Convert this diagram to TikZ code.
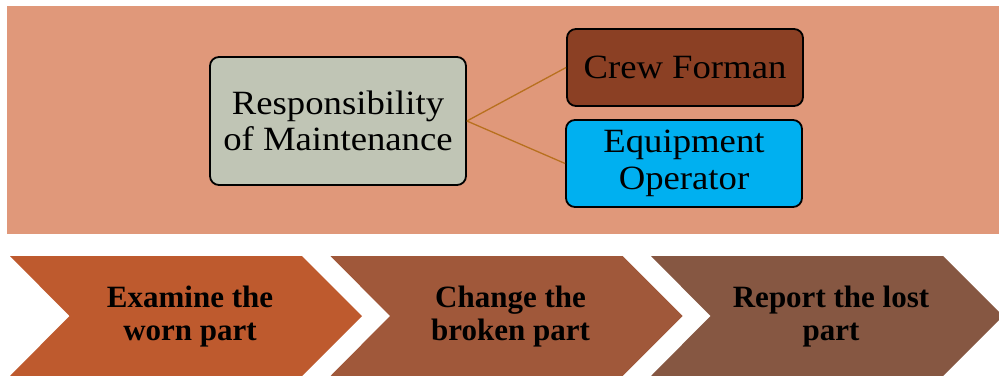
\documentclass[tikz,border=0pt]{standalone}
\usepackage{fontspec}
\setmainfont{Liberation Serif}
\newfontfamily\wideserif{Liberation Serif}[FakeStretch=1.08]
\newfontfamily\chevserif{Liberation Serif}
\definecolor{bgsalmon}{HTML}{E0987A}
\definecolor{boxgray}{HTML}{C0C5B5}
\definecolor{crewbrown}{HTML}{8B4024}
\definecolor{equipblue}{HTML}{00B0F0}
\definecolor{linkorange}{HTML}{B8701E}
\definecolor{chevA}{HTML}{BE5A2E}
\definecolor{chevB}{HTML}{A0583A}
\definecolor{chevC}{HTML}{865742}
\tikzset{
  rbox/.style={draw=black, line width=1.8pt, rounded corners=9pt, align=center,
    font=\wideserif\fontsize{34}{36.5}\selectfont, inner sep=0pt},
  link/.style={draw=linkorange, line width=1.3pt},
  chevtext/.style={align=center, inner sep=0pt,
    font=\chevserif\bfseries\fontsize{31}{33}\selectfont}
}
\begin{document}
\begin{tikzpicture}[x=1pt, y=-1pt]
\useasboundingbox (0,0) rectangle (999,375);
\clip (0,0) rectangle (999,375);
\fill[bgsalmon] (7,6) rectangle (999,234);
\node[rbox, fill=boxgray, minimum width=256pt, minimum height=128pt] (resp) at (338,121) {Responsibility\\of Maintenance};
\node[rbox, fill=crewbrown, minimum width=236pt, minimum height=77pt] (crew) at (685,67.5) {Crew Forman};
\node[rbox, fill=equipblue, minimum width=236pt, minimum height=87pt] (equip) at (684,163.5) {Equipment\\Operator};
\draw[link] (resp.east) -- (crew.west);
\draw[link] (resp.east) -- (equip.west);
% chevrons
\foreach \L/\c/\t [count=\i] in {10/chevA/{Examine the\\worn part}, 330.5/chevB/{Change the\\broken part}, 651/chevC/{Report the lost\\part}} {
  \fill[\c] (\L,256) -- ({\L+292},256) -- ({\L+352},316) -- ({\L+292},376) -- (\L,376) -- ({\L+59.5},316) -- cycle;
  \node[chevtext] (chev\i) at ({\L+180},317) {\t};
}
\end{tikzpicture}
\end{document}
